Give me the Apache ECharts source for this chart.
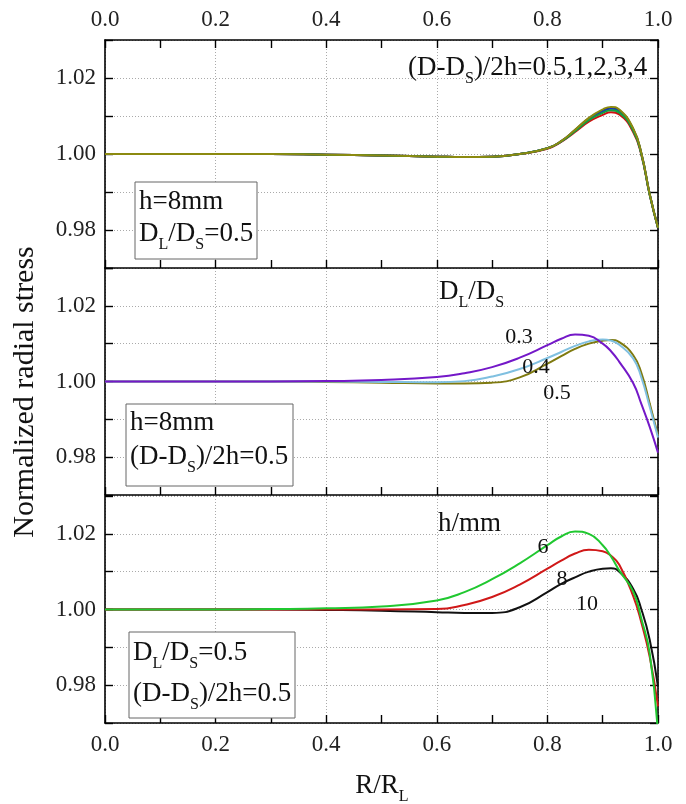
<!DOCTYPE html>
<html>
<head>
<meta charset="utf-8">
<script src="https://cdn.jsdelivr.net/npm/echarts@6/dist/echarts.min.js"></script>
<style>
  html, body { margin: 0; padding: 0; background: #fff; }
  #main { width: 686px; height: 804px; }
</style>
</head>
<body>
<div id="main"></div>
<script>
// R/R_L sample positions shared by all curves
var xs = [0, 0.1, 0.2, 0.3, 0.4, 0.5, 0.6, 0.65, 0.7, 0.75, 0.8, 0.825, 0.85, 0.875, 0.9, 0.915, 0.93, 0.955, 0.97, 0.985, 1.0];

// panel 1: (D-Ds)/2h = 0.5, 1, 2, 3, 4
var p1Black = [1.0000, 1.0000, 1.0000, 1.0000, 0.9998, 0.9996, 0.9993, 0.9992, 0.9993, 1.0000, 1.0015, 1.0034, 1.0063, 1.0094, 1.0115, 1.0122, 1.0115, 1.0066, 1.0001, 0.9894, 0.9805];
var p1Red   = [1.0000, 1.0000, 1.0000, 1.0000, 0.9998, 0.9996, 0.9993, 0.9992, 0.9993, 1.0000, 1.0014, 1.0032, 1.0058, 1.0085, 1.0103, 1.0110, 1.0104, 1.0058, 0.9997, 0.9892, 0.9806];
var p1Blue  = [1.0000, 1.0000, 1.0000, 1.0000, 0.9998, 0.9996, 0.9993, 0.9992, 0.9993, 1.0000, 1.0015, 1.0033, 1.0062, 1.0092, 1.0112, 1.0119, 1.0112, 1.0064, 1.0000, 0.9894, 0.9806];
var p1Green = [1.0000, 1.0000, 1.0000, 1.0000, 0.9998, 0.9996, 0.9993, 0.9992, 0.9993, 1.0000, 1.0015, 1.0033, 1.0060, 1.0089, 1.0108, 1.0115, 1.0109, 1.0062, 0.9999, 0.9893, 0.9806];
var p1Olive = [1.0000, 1.0000, 1.0000, 1.0000, 0.9998, 0.9996, 0.9993, 0.9992, 0.9993, 1.0000, 1.0015, 1.0034, 1.0064, 1.0095, 1.0117, 1.0124, 1.0117, 1.0068, 1.0002, 0.9895, 0.9806];

// panel 2: DL/DS = 0.3, 0.4, 0.5
var p2d03 = [1.0000, 1.0000, 1.0000, 1.0000, 1.0001, 1.0004, 1.0012, 1.0022, 1.0038, 1.0063, 1.0096, 1.0113, 1.0124, 1.0121, 1.0100, 1.0080, 1.0052, 0.9996, 0.9940, 0.9880, 0.9812];
var p2d04 = [1.0000, 1.0000, 1.0000, 1.0000, 1.0000, 0.9999, 0.9998, 1.0001, 1.0013, 1.0033, 1.0062, 1.0078, 1.0094, 1.0106, 1.0111, 1.0108, 1.0097, 1.0061, 1.0010, 0.9933, 0.9852];
var p2d05 = [1.0000, 1.0000, 1.0000, 1.0000, 0.9999, 0.9997, 0.9995, 0.9995, 0.9997, 1.0011, 1.0047, 1.0067, 1.0086, 1.0100, 1.0108, 1.0110, 1.0104, 1.0070, 1.0022, 0.9942, 0.9858];

// panel 3: h = 6, 8, 10 mm
var p3h6  = [1.0000, 1.0000, 1.0000, 1.0001, 1.0003, 1.0008, 1.0024, 1.0046, 1.0080, 1.0122, 1.0170, 1.0193, 1.0206, 1.0200, 1.0170, 1.0140, 1.0103, 1.0048, 0.9975, 0.9884, 0.9670];
var p3h8  = [1.0000, 1.0000, 1.0000, 1.0000, 1.0000, 1.0000, 1.0001, 1.0012, 1.0033, 1.0066, 1.0108, 1.0129, 1.0148, 1.0158, 1.0154, 1.0142, 1.0118, 1.0036, 0.9965, 0.9875, 0.9744];
var p3h10 = [1.0000, 1.0000, 1.0000, 1.0000, 0.9999, 0.9997, 0.9993, 0.9991, 0.9991, 1.0006, 1.0046, 1.0068, 1.0085, 1.0100, 1.0108, 1.0109, 1.0100, 1.0055, 1.0000, 0.9920, 0.9796];

var xTicks = ['0.0', '0.2', '0.4', '0.6', '0.8', '1.0'];
var yTicks = ['0.98', '1.00', '1.02'];

var serif = 'Liberation Serif';

function pairs (ys) {
  var out = [];
  for (var i = 0; i < xs.length; i++) {
    out.push([xs[i], ys[i]]);
  }
  return out;
}

var dom = document.getElementById('main');
var myChart = echarts.init(dom);

var gridTops = [40, 268, 496];

var grids = [];
var xAxes = [];
var yAxes = [];
for (var g = 0; g < 3; g++) {
  grids.push({ left: 105, width: 553, top: gridTops[g], height: g === 0 ? 228 : 227 });
  // bottom axis of every panel (ticks point up, labels only on the last)
  xAxes.push({
    type: 'value', gridIndex: g, position: 'bottom', min: 0, max: 1, interval: 0.2,
    axisLine: { show: true, onZero: false, lineStyle: { color: '#000', width: 1.6 } },
    axisTick: { show: true, inside: true, length: 8, lineStyle: { color: '#000', width: 1.4 } },
    minorTick: { show: true, splitNumber: 2, length: 8, lineStyle: { color: '#000', width: 1.4 } },
    splitLine: { show: true, lineStyle: { color: '#aaa', width: 1, type: [1, 2] } },
    axisLabel: {
      show: g === 2, margin: 10, fontFamily: serif, fontSize: 23, color: '#222',
      showMinLabel: true, showMaxLabel: true,
      formatter: function (v) { return xTicks[Math.round(v * 5)]; }
    }
  });
  yAxes.push({
    type: 'value', gridIndex: g, position: 'left', min: 0.97, max: 1.03, interval: 0.01,
    axisLine: { show: true, onZero: false, lineStyle: { color: '#000', width: 1.6 } },
    axisTick: { show: true, inside: true, length: 8, lineStyle: { color: '#000', width: 1.4 } },
    splitLine: { show: true, lineStyle: { color: '#aaa', width: 1, type: [1, 2] } },
    axisLabel: {
      margin: 9, fontFamily: serif, fontSize: 23, color: '#222',
      formatter: function (v) {
        var k = Math.round(v * 100) - 98;
        return (k % 2 === 0 && k >= 0 && k <= 4) ? yTicks[k / 2] : '';
      }
    }
  });
  yAxes.push({
    type: 'value', gridIndex: g, position: 'right', min: 0.97, max: 1.03, interval: 0.01,
    axisLine: { show: true, onZero: false, lineStyle: { color: '#000', width: 1.6 } },
    axisTick: { show: true, inside: true, length: 8, lineStyle: { color: '#000', width: 1.4 } },
    splitLine: { show: false },
    axisLabel: { show: false }
  });
}
// top axis of the first panel
xAxes.push({
  type: 'value', gridIndex: 0, position: 'top', min: 0, max: 1, interval: 0.2,
  axisLine: { show: true, onZero: false, lineStyle: { color: '#000', width: 1.6 } },
  axisTick: { show: true, inside: true, length: 8, lineStyle: { color: '#000', width: 1.4 } },
  minorTick: { show: true, splitNumber: 2, length: 8, lineStyle: { color: '#000', width: 1.4 } },
  splitLine: { show: false },
  axisLabel: {
    margin: 9, fontFamily: serif, fontSize: 23, color: '#222',
    showMinLabel: true, showMaxLabel: true,
    formatter: function (v) { return xTicks[Math.round(v * 5)]; }
  }
});

function line (name, ys, color, g) {
  return {
    name: name, type: 'line', xAxisIndex: g, yAxisIndex: g * 2,
    data: pairs(ys), showSymbol: false, smooth: 0.5, clip: true,
    lineStyle: { color: color, width: 2 }, emphasis: { disabled: true }
  };
}

var series = [
  line('0.5', p1Black, '#111111', 0),
  line('1', p1Red, '#d01010', 0),
  line('2', p1Blue, '#1530c0', 0),
  line('3', p1Green, '#10a040', 0),
  line('4', p1Olive, '#8c8a10', 0),
  line('0.5', p2d05, '#7f7a10', 1),
  line('0.4', p2d04, '#80c0e0', 1),
  line('0.3', p2d03, '#7418c8', 1),
  line('10', p3h10, '#111111', 2),
  line('8', p3h8, '#d01818', 2),
  line('6', p3h6, '#20c830', 2)
];

// text helpers: rich text with subscripts
var rich = {
  n: { fontFamily: serif, fontSize: 27, lineHeight: 32, fill: '#111' },
  s: { fontFamily: serif, fontSize: 16, lineHeight: 4, verticalAlign: 'top', padding: [19, 0, 0, 0], fill: '#111' },
  m: { fontFamily: serif, fontSize: 22, lineHeight: 32, fill: '#111' }
};
function txt (text, x, y, align) {
  return {
    type: 'text', x: x, y: y, z: 100,
    style: { text: text, rich: rich, align: align || 'left', verticalAlign: 'middle', fill: '#111' }
  };
}
function box (x, y, w, h) {
  return {
    type: 'rect', z: 90, shape: { x: x, y: y, width: w, height: h },
    style: { fill: '#fff', stroke: '#666', lineWidth: 1 }
  };
}

var graphic = [
  // axis titles
  {
    type: 'text', x: 25, y: 392, rotation: Math.PI / 2, z: 100,
    style: { text: 'Normalized radial stress', fontFamily: serif, fontSize: 30, fill: '#111', align: 'center', verticalAlign: 'middle' }
  },
  txt('{n|R/R}{s|L}', 382, 786, 'center'),
  // panel 1
  txt('{n|(D-D}{s|S}{n|)/2h=0.5,1,2,3,4}', 408, 68),
  box(135, 182, 122, 77),
  txt('{n|h=8mm}', 139, 202),
  txt('{n|D}{s|L}{n|/D}{s|S}{n|=0.5}', 139, 234),
  // panel 2
  txt('{n|D}{s|L}{n|/D}{s|S}', 439, 292),
  txt('{m|0.3}', 519, 337, 'center'),
  txt('{m|0.4}', 536, 367, 'center'),
  txt('{m|0.5}', 557, 393, 'center'),
  box(126, 404, 167, 82),
  txt('{n|h=8mm}', 130, 423),
  txt('{n|(D-D}{s|S}{n|)/2h=0.5}', 130, 457),
  // panel 3
  txt('{n|h/mm}', 438, 524),
  txt('{m|6}', 543, 547, 'center'),
  txt('{m|8}', 562, 579, 'center'),
  txt('{m|10}', 587, 604, 'center'),
  box(129, 632, 166, 86),
  txt('{n|D}{s|L}{n|/D}{s|S}{n|=0.5}', 133, 653),
  txt('{n|(D-D}{s|S}{n|)/2h=0.5}', 133, 694)
];

var option = {
  animation: false,
  backgroundColor: '#fff',
  grid: grids,
  xAxis: xAxes,
  yAxis: yAxes,
  series: series,
  graphic: graphic
};
myChart.setOption(option);
</script>
</body>
</html>
